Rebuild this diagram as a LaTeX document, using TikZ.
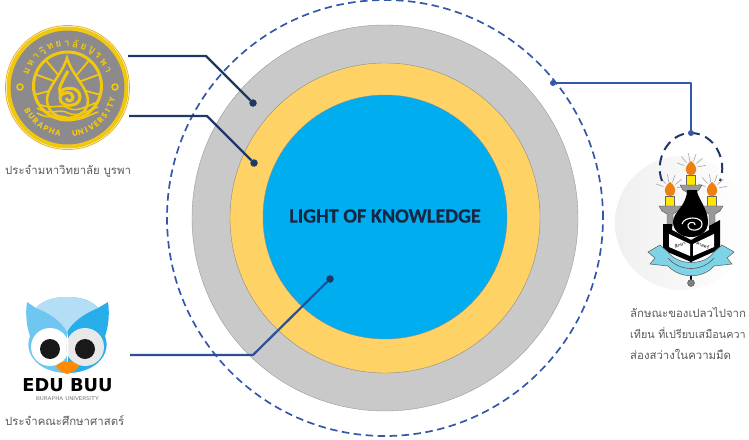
\documentclass[tikz,border=0pt]{standalone}
\usepackage{fontspec}
\setmainfont{Carlito}[BoldFeatures={FakeBold=0.4}]
\newfontfamily\thaifont[Script=Thai]{Loma}
\newfontfamily\heavyfont{DejaVu Sans}
\usetikzlibrary{positioning}
\definecolor{ringgray}{HTML}{C9C9C9}
\definecolor{ringyellow}{HTML}{FFD265}
\definecolor{ringblue}{HTML}{00ADEF}
\definecolor{leadnavy}{HTML}{1F3864}
\definecolor{leadblue}{HTML}{3557A8}
\definecolor{sealgold}{HTML}{F2C80F}
\definecolor{sealgray}{HTML}{8D8A8E}
\definecolor{owlpale}{HTML}{B4DDF6}
\definecolor{owlmid}{HTML}{6EC6F1}
\definecolor{owlblue}{HTML}{27AEEA}
\definecolor{ribboncyan}{HTML}{7FD3E6}
\tikzset{
  disc/.style={circle,inner sep=0pt,outer sep=0pt},
  leader/.style={line width=2.2pt,leadnavy,line join=round},
  tipdot/.style={disc,fill=leadnavy,minimum size=7.5pt},
  caption/.style={inner sep=0pt,anchor=base west,font=\thaifont\fontsize{11.4}{13}\selectfont,text=black!65},
  sealchar/.style={inner sep=0pt,text=sealgold,font=\bfseries\fontsize{8.5}{9}\selectfont},
}
\begin{document}
\begin{tikzpicture}[x=1pt,y=-1pt]
 \useasboundingbox (0,0) rectangle (749,439);
 % rings
 \node [disc,draw=leadblue,line width=1.7pt,dash pattern=on 7.5pt off 4.5pt,minimum size=436pt] (outerdash) at (385,218) {};
 \node [disc,fill=ringgray,draw=black!40,line width=.4pt,minimum size=386pt] (grayring) at (385,218) {};
 \node [disc,fill=ringyellow,draw=black!45,line width=.4pt,minimum size=310pt] (yellowring) at (385,218) {};
 \node [disc,fill=ringblue,draw=black!45,line width=.4pt,minimum size=244pt] (bluedisc) at (385,217) {};
 \node [text=leadnavy!70!black,font=\bfseries\fontsize{20.2}{22}\selectfont] (title) at (385,216) {LIGHT OF KNOWLEDGE};
 % university seal
 \node [disc,fill=sealgray,draw=sealgold,line width=4pt,minimum size=118pt] (seal) at (67.5,87.5) {};
 \node [disc,draw=sealgold!70!brown,line width=.8pt,minimum size=124pt] (sealedge) at (67.5,87.5) {};
 \node [disc,draw=sealgold,line width=3pt,minimum size=68pt] (sealwheel) at (67.5,86) {};
 \foreach \a in {20,50,130,160,-15,195}
  \draw [sealgold,line width=1.8pt] ([shift={(\a:12pt)}]sealwheel.center) -- ([shift={(\a:33pt)}]sealwheel.center);
 \fill [sealgray,draw=sealgold,line width=2.5pt] (67,58) .. controls (62,75) and (46,88) .. (47,101) .. controls (48,114) and (60,118) .. (67,118) .. controls (75,118) and (88,113) .. (88,101) .. controls (88,88) and (72,75) .. (67,58) -- cycle;
 \draw [sealgold,line width=3pt] (68,71) .. controls (63,80) and (58,88) .. (60,93) .. controls (63,86) and (80,86) .. (80,97) .. controls (80,108) and (60,108) .. (60,98) .. controls (61,91) and (73,91) .. (73,97) .. controls (73,102) and (67,102) .. (66,98);
 \foreach \w in {108,113,118}
  \draw [sealgold,line width=1.6pt] (37,\w-5) .. controls (50,\w+3) and (60,\w-5) .. (68,\w) .. controls (78,\w+5) and (88,\w-3) .. (98,\w-6);
 \foreach \ch [count=\i] in {ม,ห,า,วิ,ท,ย,า,ลั,ย,บู,ร,พ,า}
  \node [sealchar,font=\thaifont\bfseries\fontsize{10}{11}\selectfont,rotate={79.2-\i*11.2}] (sealth\i) at ([shift={({169.2-\i*11.2}:44pt)}]seal.center) {\ch};
 \foreach \ch [count=\i] in {B,U,R,A,P,H,A}
  \node [sealchar,rotate={202+\i*8+90}] (sealbu\i) at ([shift={({202+\i*8}:46pt)}]seal.center) {\ch};
 \foreach \ch [count=\i] in {U,N,I,V,E,R,S,I,T,Y}
  \node [sealchar,rotate={272+\i*7.3+90}] (sealun\i) at ([shift={({272+\i*7.3}:46pt)}]seal.center) {\ch};
 \node [disc,draw=sealgold,fill=sealgray,line width=1.5pt,minimum size=6pt] (sealdotl) at (20,87) {};
 \node [disc,draw=sealgold,fill=sealgray,line width=1.5pt,minimum size=6pt] (sealdotr) at (115,87) {};
 \node [caption] (sealtext) at (5,174) {ประจำมหาวิทยาลัย บูรพา};
 % faculty owl
 \fill [owlmid] (67,297) .. controls (52,297) and (42,301) .. (36,308) -- (27,302) .. controls (25,315) and (27,328) .. (30,336) .. controls (23,355) and (40,373) .. (67,373) -- cycle;
 \fill [owlblue] (67,297) .. controls (82,297) and (92,301) .. (98,308) -- (108,302) .. controls (110,315) and (108,328) .. (105,336) .. controls (112,355) and (95,373) .. (67,373) -- cycle;
 \fill [owlpale] (36,308) .. controls (42,301) and (52,297) .. (67,297) .. controls (82,297) and (92,301) .. (98,308) .. controls (85,313) and (72,322) .. (67,332) .. controls (62,322) and (50,313) .. (36,308) -- cycle;
 \node [disc,fill=white,minimum size=38pt] (owleyel) at (50,347) {};
 \node [disc,fill=black!9,minimum size=38pt] (owleyer) at (85,347) {};
 \fill [white] (67,331) -- (67,364) .. controls (69,360) and (69,340) .. (67,331);
 \node [disc,fill=black!90,minimum size=20pt] (owlpupl) at (50,349) {};
 \node [disc,fill=black!90,minimum size=20pt] (owlpupr) at (85,349) {};
 \fill [orange!90!yellow] (56,366) .. controls (60,360) and (75,360) .. (79,366) .. controls (75,372) and (70,373) .. (67,374) .. controls (64,373) and (60,372) .. (56,366) -- cycle;
 \node [inner sep=0pt,font=\heavyfont\bfseries\fontsize{17.8}{18}\selectfont] (owlname) at (67.5,385) {EDU BUU};
 \node [inner sep=0pt,text=black!60,font=\sffamily\fontsize{5.5}{6}\selectfont,below=5pt of owlname] (owlsub) {BURAPHA UNIVERSITY};
 \node [caption] (owltext) at (5,425) {ประจำคณะศึกษาศาสตร์};
 % candle emblem
 \node [disc,left color=black!6,right color=white,minimum size=134pt] (emblem) at (682,223) {};
 \foreach \cx/\cy in {670/0,712/0,691/-21} {
  \foreach \a in {10,40,...,170}
   \draw [black!35,line width=.6pt] ([shift={(\a:7pt)}]\cx,189+\cy) -- ([shift={(\a:15pt)}]\cx,189+\cy);
  \fill [yellow!90!orange,draw=black!60,line width=.3pt] (\cx-4.5,196+\cy) rectangle (\cx+4.5,206+\cy);
  \fill [orange!70!brown] (\cx,182+\cy) .. controls (\cx+7,187+\cy) and (\cx+7,196+\cy) .. (\cx,196+\cy) .. controls (\cx-7,196+\cy) and (\cx-7,187+\cy) .. (\cx,182+\cy);
  \fill [black!40,draw=black!70,line width=.4pt] (\cx-11,206+\cy) -- (\cx+11,206+\cy) -- (\cx+8,211+\cy) -- (\cx+3,214+\cy) -- (\cx+3,226+\cy) -- (\cx-3,226+\cy) -- (\cx-3,214+\cy) -- (\cx-8,211+\cy) -- cycle;
 }
 \fill [black] (687,190) -- (697,190) .. controls (697,198) and (708,208) .. (708,222) .. controls (708,232) and (700,237) .. (691,237) .. controls (680,237) and (673,230) .. (673,222) .. controls (673,212) and (687,206) .. (687,190) -- cycle;
 \draw [white,line width=1.1pt] (682,224) .. controls (684,216) and (702,216) .. (702,224) .. controls (702,232) and (687,232) .. (688,225) .. controls (689,221) and (696,222) .. (695,225);
 \fill [black] (663,224) -- (672,224) -- (672,230) -- (691,240) -- (709,230) -- (709,226) -- (720,220) -- (720,249) -- (691,262) -- (663,250) -- cycle;
 \fill [white] (669,234) -- (690,244) -- (690,256) -- (669,247) -- cycle;
 \fill [white] (693,244) -- (714,234) -- (714,247) -- (693,256) -- cycle;
 \node [inner sep=0pt,font=\thaifont\fontsize{4.5}{5}\selectfont,rotate=24] (booktl) at (680,245) {ศึกษา};
 \node [inner sep=0pt,font=\thaifont\fontsize{4.5}{5}\selectfont,rotate=-24] (booktr) at (703,245) {ศาสตร์};
 \draw [black,line width=1.2pt] (691,258) -- (691,280);
 \fill [ribboncyan,draw=black!65,line width=.5pt] (648,252) -- (660,245) -- (668,252) .. controls (678,266) and (705,266) .. (714,252) -- (722,245) -- (734,252) -- (727,258) -- (732,264) -- (714,266) .. controls (703,279) and (680,279) .. (668,266) -- (650,264) -- (655,258) -- cycle;
 \draw [black!65,line width=.6pt] (668,258) .. controls (680,272) and (702,272) .. (714,258);
 \node [disc,fill=black!50,draw=black!70,minimum size=7pt] (emblembase) at (691,283) {};
 \node [caption] (flametext) at (630,317) {ลักษณะของเปลวไปจาก};
 \node [caption,font=\thaifont\fontsize{10.8}{13}\selectfont] (flametextb) at (630,338.5) {เทียน ที่เปรียบเสมือนควา};
 \node [caption] (flametextc) at (630,359) {ส่องสว่างในความมืด};
 % dashed halo over the emblem
 \draw [leadnavy,line width=2pt,dash pattern=on 10pt off 6pt] (662,181) .. controls (654,160) and (668,133) .. (691,133) .. controls (714,133) and (728,160) .. (720,181);
 % connectors
 \coordinate (sealouta) at (128,56);
 \coordinate (sealbenda) at (206,56);
 \node [tipdot] (graydot) at (253,103) {};
 \coordinate (sealoutb) at (129,116);
 \coordinate (sealbendb) at (207,116);
 \node [tipdot] (yellowdot) at (254,163) {};
 \coordinate (owlout) at (130,355);
 \coordinate (owlbend) at (253,355);
 \node [tipdot] (bluedot) at (330,279) {};
 \node [tipdot,fill=leadblue,minimum size=6pt] (dashdot) at (553,83) {};
 \coordinate (emblembend) at (691,83);
 \node [tipdot,fill=leadblue,minimum size=6pt] (halodot) at (691,133) {};
 \draw [leader] (sealouta) -- (sealbenda) -- (graydot);
 \draw [leader] (sealoutb) -- (sealbendb) -- (yellowdot);
 \draw [leader,leadblue!70!leadnavy] (owlout) -- (owlbend) -- (bluedot);
 \draw [leader,leadblue,line width=1.7pt] (dashdot) -- (emblembend) -- (halodot);
\end{tikzpicture}
\end{document}
